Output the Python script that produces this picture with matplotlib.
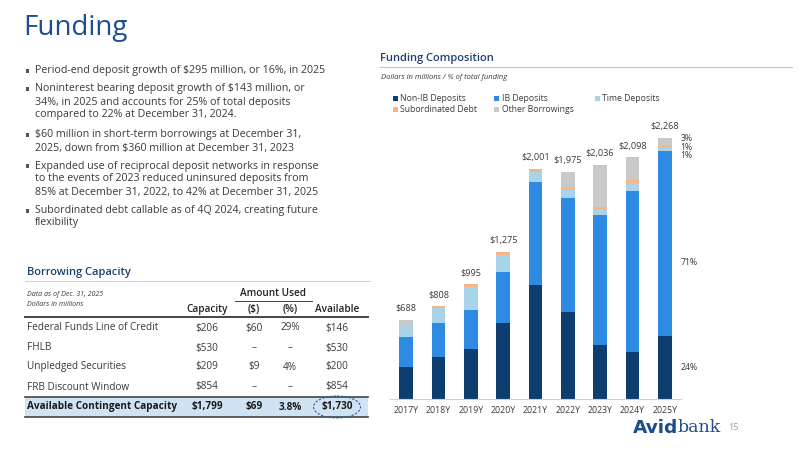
import matplotlib
matplotlib.use("Agg")
import matplotlib.pyplot as plt
from matplotlib.patches import Rectangle, Ellipse
import numpy as np

plt.rcParams['font.family'] = ['Open Sans', 'DejaVu Sans']

# ---------------- data ----------------
years = ["2017Y", "2018Y", "2019Y", "2020Y", "2021Y", "2022Y", "2023Y", "2024Y", "2025Y"]
non_ib = [275, 367, 432, 663, 990, 758, 469, 405, 544]
ib = [261, 290, 342, 443, 892, 990, 1129, 1405, 1610]
time_dep = [98, 136, 201, 146, 87, 67, 49, 67, 23]
sub_debt = [0, 15, 20, 23, 26, 26, 23, 26, 23]
other = [54, 0, 0, 0, 6, 134, 366, 195, 68]
totals = ["$688", "$808", "$995", "$1,275", "$2,001", "$1,975", "$2,036", "$2,098", "$2,268"]
series_names = ["Non-IB Deposits", "IB Deposits", "Time Deposits", "Subordinated Debt", "Other Borrowings"]
pct_labels_2025 = ["24%", "71%", "1%", "1%", "3%"]

bullets = [
    ["Period-end deposit growth of $295 million, or 16%, in 2025"],
    ["Noninterest bearing deposit growth of $143 million, or",
     "34%, in 2025 and accounts for 25% of total deposits",
     "compared to 22% at December 31, 2024."],
    ["$60 million in short-term borrowings at December 31,",
     "2025, down from $360 million at December 31, 2023"],
    ["Expanded use of reciprocal deposit networks in response",
     "to the events of 2023 reduced uninsured deposits from",
     "85% at December 31, 2022, to 42% at December 31, 2025"],
    ["Subordinated debt callable as of 4Q 2024, creating future",
     "flexibility"],
]

table_rows = ["Federal Funds Line of Credit", "FHLB", "Unpledged Securities", "FRB Discount Window"]
capacity = ["$206", "$530", "$209", "$854"]
used_dollar = ["$60", "\u2013", "$9", "\u2013"]
used_pct = ["29%", "\u2013", "4%", "\u2013"]
available = ["$146", "$530", "$200", "$854"]
total_row = ["Available Contingent Capacity", "$1,799", "$69", "3.8%", "$1,730"]

# ---------------- styles ----------------
c_navy_title = '#1c4f8f'
c_head = '#1f3f73'
c_text = '#3a3a3a'
colors = ['#0e3e70', '#2f8be2', '#a9d3e6', '#f6b48a', '#c9c9c9']

fig = plt.figure(figsize=(8, 4.5), dpi=100)
fig.patch.set_facecolor('white')

# overlay axes in pixel coordinates
ov = fig.add_axes([0, 0, 1, 1])
ov.set_xlim(0, 800)
ov.set_ylim(450, 0)
ov.axis('off')
ov.set_zorder(0)

# Title
ov.text(23, 28, "Funding", fontsize=20, color=c_navy_title, va='center', ha='left')

# Bullets
line_y = [71, 89, 102, 115, 135, 148, 166, 179, 192, 211, 223]
k = 0
for b in bullets:
    for j, ln in enumerate(b):
        if j == 0:
            ov.add_patch(Rectangle((25.5, line_y[k] - 2), 3.8, 3.8, color='#555555', lw=0))
        ov.text(35, line_y[k], ln, fontsize=7.7, color=c_text, va='center', ha='left')
        k += 1

# Funding composition heading
ov.text(380, 59, "Funding Composition", fontsize=8, fontweight='semibold', color=c_head, va='center', ha='left')
ov.plot([380, 792], [66.5, 66.5], color='#b8c7d8', lw=0.8)
ov.text(381, 77.5, "Dollars in millions / % of total funding", fontsize=5.5, style='italic', color=c_text, va='center', ha='left')

# Legend
leg_pos = [(395, 98.3), (496.5, 98.3), (597.5, 98.3), (395, 109.3), (496.5, 109.3)]
for (lx, ly), nm, col in zip(leg_pos, series_names, colors):
    ov.add_patch(Rectangle((lx - 2.2, ly - 2.5), 5, 5, color=col, lw=0))
    ov.text(lx + 5, ly, nm, fontsize=6.2, color=c_text, va='center', ha='left')

# ---------------- bar chart ----------------
ax = fig.add_axes([390 / 800, 1 - 399 / 450, 291 / 800, 287.8 / 450])
ax.set_zorder(1)
ax.patch.set_alpha(0)
x = np.arange(len(years))
bottom = np.zeros(len(years))
for vals, col in zip([non_ib, ib, time_dep, sub_debt, other], colors):
    v = np.array(vals, dtype=float)
    ax.bar(x, v, bottom=bottom, width=0.42, color=col, linewidth=0)
    bottom += v
for xi, tot, lab in zip(x, bottom, totals):
    ax.text(xi, tot + 60, lab, ha='center', va='bottom', fontsize=6.6, color=c_text)

# percent labels for 2025 (label positions)
pct_y = [270, 1190, 2111, 2181, 2259]
for yy, lab in zip(pct_y, pct_labels_2025):
    ax.text(8.48, yy, lab, ha='left', va='center', fontsize=6.3, color=c_text)

ax.set_xlim(-0.5, 8.5)
ax.set_ylim(0, 2500)
ax.set_xticks(x)
ax.set_xticklabels(years, fontsize=6.3, color=c_text)
ax.tick_params(axis='x', length=0, pad=5)
ax.set_yticks([])
for s in ['top', 'right', 'left']:
    ax.spines[s].set_visible(False)
ax.spines['bottom'].set_color('#d0d0d0')
ax.spines['bottom'].set_linewidth(0.8)

# ---------------- borrowing capacity table ----------------
ov.text(27, 273, "Borrowing Capacity", fontsize=8, fontweight='semibold', color=c_head, va='center', ha='left')
ov.plot([25, 370], [280.5, 280.5], color='#c8d3df', lw=0.8)
ov.text(27, 294, "Data as of Dec. 31, 2025", fontsize=5.1, style='italic', color=c_text, va='center', ha='left')
ov.text(27, 305, "Dollars in millions", fontsize=5.1, style='italic', color=c_text, va='center', ha='left')

col_x = [207, 254, 290, 337]
fs_t = 7.2
ov.text(273, 293, "Amount Used", fontsize=fs_t, fontweight='semibold', color='#222222', va='center', ha='center')
ov.plot([235, 312], [300.5, 300.5], color='#444444', lw=0.7)
for cx, h in zip(col_x, ["Capacity", "($)", "(%)", "Available"]):
    ov.text(cx, 309.5, h, fontsize=fs_t, fontweight='semibold', color='#222222', va='center', ha='center')
ov.plot([25, 368], [317, 317], color='#444444', lw=1.4)

row_y = [328, 348, 367, 387]
for ry, nm, a, b, c, d in zip(row_y, table_rows, capacity, used_dollar, used_pct, available):
    ov.text(27, ry, nm, fontsize=fs_t, color=c_text, va='center', ha='left')
    for cx, v in zip(col_x, [a, b, c, d]):
        ov.text(cx, ry, v, fontsize=fs_t, color=c_text, va='center', ha='center')

ov.add_patch(Rectangle((25, 396.5), 343, 20.5, color='#cfe3f5', lw=0))
ov.plot([25, 368], [396.5, 396.5], color='#444444', lw=1.2)
ov.plot([25, 368], [417, 417], color='#444444', lw=1.2)
ov.text(27, 407, total_row[0], fontsize=fs_t, fontweight='bold', color='#1a1a1a', va='center', ha='left')
for cx, v in zip(col_x, total_row[1:]):
    ov.text(cx, 407, v, fontsize=fs_t, fontweight='bold', color='#1a1a1a', va='center', ha='center')
ov.add_patch(Ellipse((337, 407), 47, 22, fill=False, ec='#2b5c9a', lw=0.8, ls=(0, (2, 1.5)), zorder=5))

# ---------------- logo & page number ----------------
ov.text(633, 428, "Avid", fontsize=13.3, fontweight='heavy', family=['DejaVu Sans'], color='#1b4c8c', va='center', ha='left')
ov.text(678, 428, "bank", fontsize=12.5, family=['DejaVu Serif'], color='#1b4c8c', va='center', ha='left')
ov.text(728, 427, "15", fontsize=6.5, color='#999999', va='center', ha='left')

fig.savefig("out.png", dpi=100, facecolor='white')
